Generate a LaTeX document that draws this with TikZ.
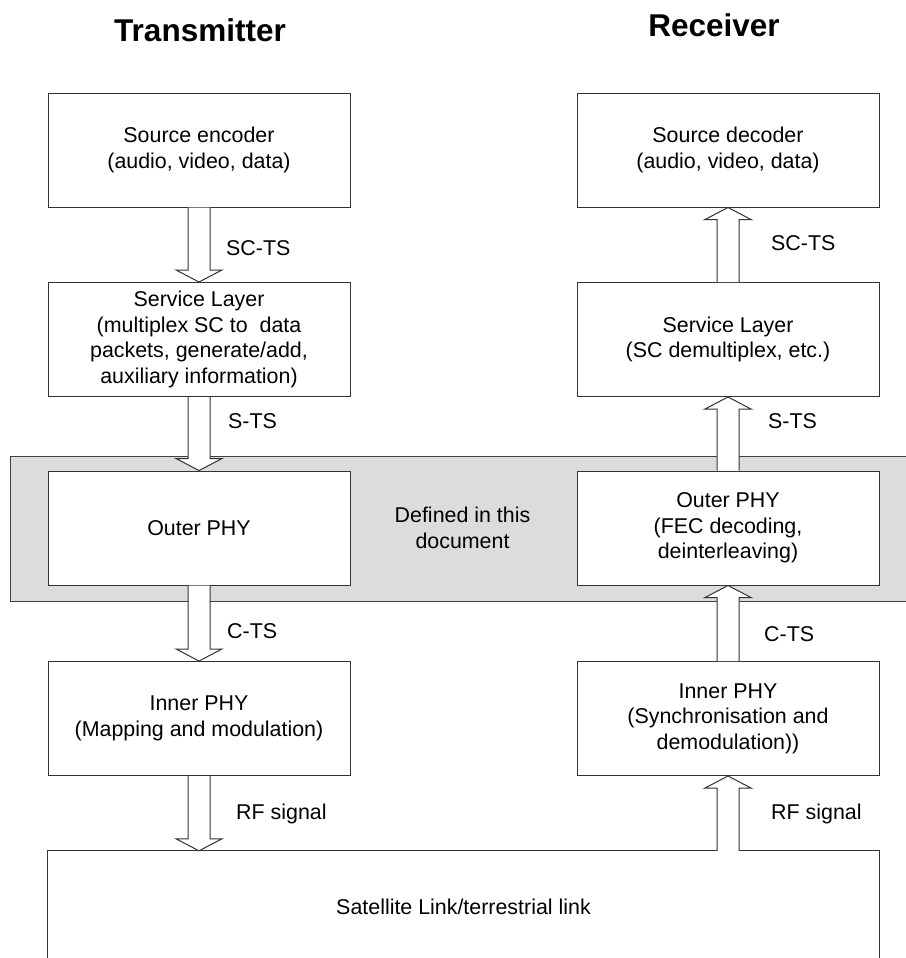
\documentclass[tikz,border=0pt]{standalone}
\usepackage{fontspec}
\setmainfont{Liberation Sans}
\usetikzlibrary{calc}

\newcommand{\fatdown}[2]{%
  \draw[fatarrow] ($(#1.south)+(-11,0)$) -- ($(#1.south |- #2.north)+(-11,12)$) -- ++(-12,0) -- (#1.south |- #2.north) -- ++(23,12) -- ++(-12,0) -- ($(#1.south)+(11,0)$);}
\newcommand{\fatup}[2]{%
  \draw[fatarrow] ($(#2.south |- #1.north)+(-11,0)$) -- ($(#2.south)+(-11,-12)$) -- ++(-12,0) -- (#2.south) -- ++(23,-12) -- ++(-12,0) -- ($(#2.south |- #1.north)+(11,0)$);}

\begin{document}
\begin{tikzpicture}[x=1pt, y=1pt,
  box/.style={draw=black!80, line width=1pt, fill=white, minimum width=302pt, minimum height=114pt, align=center, font=\fontsize{21.4}{25.5}\selectfont},
  fatarrow/.style={draw=black!80, line width=1pt, fill=white, line join=miter},
  lbl/.style={anchor=base west, inner sep=0pt, font=\fontsize{21.4}{25.5}\selectfont},
  title/.style={anchor=base, inner sep=0pt, font=\fontsize{31.5}{36}\selectfont\bfseries}]

\useasboundingbox (0,0) rectangle (905,-958);

\filldraw [fill={rgb,255:red,220;green,220;blue,220}, draw=black!75, line width=1pt] (10,-456) rectangle (925,-601);

\node[title] (tx) at (200,-42) {Transmitter};
\node[title] (rx) at (714,-37) {Receiver};

\node[box] (enc) at (199,-150) {Source encoder\\(audio, video, data)};
\node[box] (svc) at (199,-339.5) {Service Layer\\(multiplex SC to~~data\\packets, generate/add,\\auxiliary information)};
\node[box] (outer) at (199,-528) {Outer PHY};
\node[box] (inner) at (199,-718.5) {Inner PHY\\(Mapping and modulation)};

\node[box] (dec) at (728,-150) {Source decoder\\(audio, video, data)};
\node[box] (rsvc) at (728,-339.5) {Service Layer\\(SC demultiplex, etc.)};
\node[box] (router) at (728,-528) {Outer PHY\\(FEC decoding,\\deinterleaving)};
\node[box] (rinner) at (728,-718.5) {Inner PHY\\(Synchronisation and\\demodulation))};

\node[align=center, font=\fontsize{21.4}{25.5}\selectfont] (defd) at (462.5,-528) {Defined in this\\document};

\node[minimum width=831pt, minimum height=112pt, font=\fontsize{21.4}{25.5}\selectfont] (link) at (463.5,-907) {Satellite Link/terrestrial link};
\draw [draw=black!80, line width=1pt] (link.south west) -- (link.north west) -- (link.north east) -- (link.south east);

\fatdown{enc}{svc}
\fatdown{svc}{outer}
\fatdown{outer}{inner}
\fatdown{inner}{link}

\fatup{rsvc}{dec}
\fatup{router}{rsvc}
\fatup{rinner}{router}
\fatup{link}{rinner}

\node[lbl] (l1) at (226,-255) {SC-TS};
\node[lbl] (l2) at (228,-428) {S-TS};
\node[lbl] (l3) at (227,-638) {C-TS};
\node[lbl] (l4) at (236,-819) {RF signal};
\node[lbl] (r1) at (771,-250) {SC-TS};
\node[lbl] (r2) at (768,-428) {S-TS};
\node[lbl] (r3) at (764,-641) {C-TS};
\node[lbl] (r4) at (771,-819) {RF signal};

\end{tikzpicture}
\end{document}
